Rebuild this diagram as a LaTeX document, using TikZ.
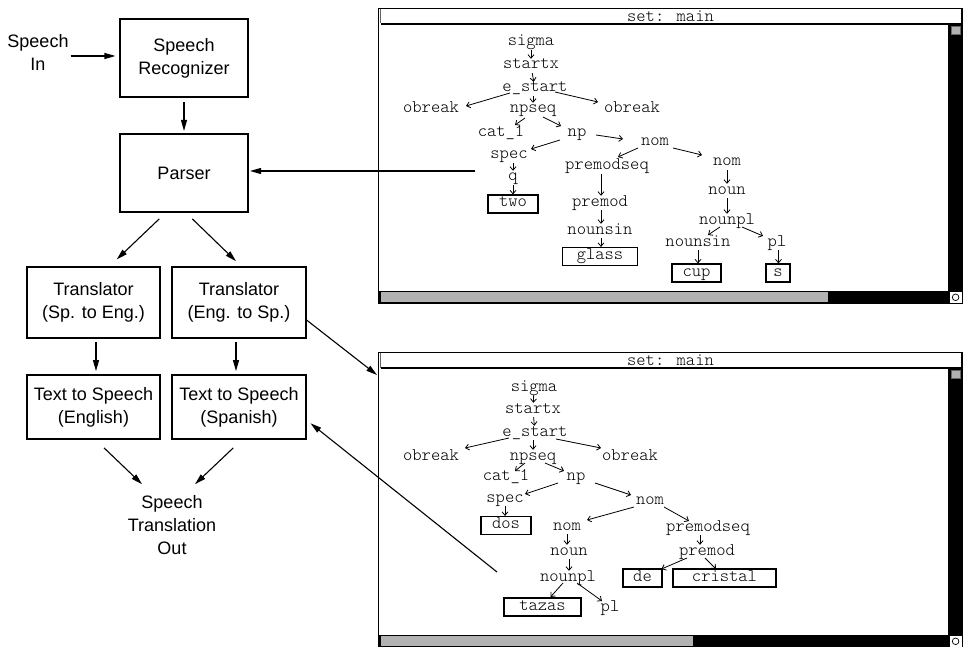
\documentclass[tikz,border=0pt]{standalone}
\usepackage{fontspec}
\setmainfont{Liberation Sans}
\newcommand\treefont{\ttfamily\fontseries{l}\selectfont}
\usetikzlibrary{arrows.meta,calc}
\begin{document}
\begin{tikzpicture}[x=1pt,y=-1pt,
  flowfont/.style={font=\fontsize{18}{23}\selectfont},
  stage/.style={draw, line width=1.1pt, align=center, flowfont},
  flowlabel/.style={align=center, flowfont, inner sep=1pt},
  flowarrow/.style={line width=1.1pt, -{Triangle[length=11pt,width=6pt]}},
  catnode/.style={font=\treefont\fontsize{17.7}{18}\selectfont, inner sep=1pt, text height=9pt, text depth=3pt},
  leafbox/.style={catnode, draw, line width=1.2pt, inner ysep=3pt},
  treelink/.style={line width=0.8pt, -{Straight Barb[length=3.5pt,width=6pt]}},
]
\useasboundingbox (0,0) rectangle (963,647);
\fill[white] (0,0) rectangle (963,647);

% ---- the two chart windows (frame, title bar, scroll bars) ----
\foreach \oy/\tx in {0/828, 344/693}{
  \begin{scope}[shift={(0,\oy)}]
    \draw[line width=1.4pt] (378.7,303) -- (378.7,8.5) -- (962,8.5) -- (962,24);
    \draw[line width=1.2pt] (380.5,24) -- (962,24);
    \draw[line width=0.8pt, black!60] (380.6,9.2) -- (380.6,23.5);
    \fill (947.6,24) rectangle (962.5,291);
    \filldraw[fill=black!30, draw=black!60, line width=0.5pt] (951.3,26.3) rectangle (960.7,34);
    \fill (378,290.6) rectangle (949,303.6);
    \fill[black!30] (380.8,292.3) rectangle (\tx,301.6);
    \filldraw[fill=white, draw=black, line width=1pt] (949.3,291.3) rectangle (962,303);
    \draw[line width=0.7pt] (955.6,297.3) circle (3.3);
  \end{scope}
}
\node[catnode] (a-title) at (670.5,18.3) {set: main};
\node[catnode] (b-title) at (670.5,362.3) {set: main};

% ---- upper parse chart: "two glass cup s" ----
\node[catnode] (a-sigma)  at (531,43)  {sigma};
\node[catnode] (a-startx) at (531,66)  {startx};
\node[catnode] (a-estart) at (535,89)  {e\_start};
\node[catnode] (a-ob1)    at (431,110) {obreak};
\node[catnode] (a-npseq)  at (533,110) {npseq};
\node[catnode] (a-ob2)    at (632,110) {obreak};
\node[catnode] (a-cat)    at (501,134) {cat\_1};
\node[catnode] (a-np)     at (577,134) {np};
\node[catnode] (a-nom1)   at (655,143) {nom};
\node[catnode] (a-spec)   at (509,156) {spec};
\node[catnode] (a-pms)    at (607,167) {premodseq};
\node[catnode] (a-nom2)   at (727,163) {nom};
\node[catnode] (a-q)      at (513,178) {q};
\node[leafbox, minimum width=50pt] (a-two) at (513,204) {two};
\node[catnode] (a-noun)   at (727,191) {noun};
\node[catnode] (a-premod) at (600,203) {premod};
\node[catnode] (a-nounpl) at (727,221) {nounpl};
\node[catnode] (a-ns1)    at (600,231) {nounsin};
\node[catnode] (a-ns2)    at (698,243) {nounsin};
\node[catnode] (a-pl)     at (777,243) {pl};
\node[leafbox, minimum width=75pt] (a-glass) at (600,256.5) {glass};
\node[leafbox, minimum width=49pt] (a-cup) at (696.5,273) {cup};
\node[leafbox, minimum width=24pt] (a-s) at (778,273) {s};

\draw[treelink] (a-sigma) -- (a-startx);
\draw[treelink] (a-startx) -- (a-estart);
\draw[treelink] (a-npseq.north |- a-estart.south) -- (a-npseq.north);
\draw[treelink] ($(a-estart)+(-25,4)$) -- ($(a-ob1)+(35,-4)$);
\draw[treelink] ($(a-estart)+(20,3)$) -- ($(a-ob2)+(-34,-8)$);
\draw[treelink] ($(a-npseq)+(-8,8)$) -- ($(a-cat)+(14,-9)$);
\draw[treelink] ($(a-npseq)+(10,7)$) -- ($(a-np)+(-16,-8)$);
\draw[treelink] ($(a-np)+(19,1)$) -- ($(a-nom1)+(-32,-4)$);
\draw[treelink] ($(a-np)+(-17,6)$) -- ($(a-spec)+(22,-7)$);
\draw[treelink] ($(a-nom1)+(-17,5)$) -- ($(a-pms)+(11,-10)$);
\draw[treelink] ($(a-nom1)+(18,5)$) -- ($(a-nom2)+(-25,-8)$);
\draw[treelink] (a-q.north |- a-spec.south) -- (a-q.north);
\draw[treelink] (a-q) -- (a-two);
\draw[treelink] ($(a-pms.south)+(-6,0)$) -- ($(a-premod.north)+(1,0)$);
\draw[treelink] ($(a-premod.south)+(1,0)$) -- ($(a-ns1.north)+(1,0)$);
\draw[treelink] ($(a-ns1.south)+(1,0)$) -- ($(a-glass.north)+(1,0)$);
\draw[treelink] (a-nom2) -- (a-noun);
\draw[treelink] (a-noun) -- (a-nounpl);
\draw[treelink] ($(a-nounpl)+(-7,6)$) -- ($(a-ns2)+(10,-8)$);
\draw[treelink] ($(a-nounpl)+(15,6)$) -- ($(a-pl)+(-14,-7)$);
\draw[treelink] (a-ns2.south) -- (a-ns2.south |- a-cup.north);
\draw[treelink] ($(a-pl.south)+(1.5,0)$) -- ($(a-pl.south |- a-s.north)+(1.5,0)$);

% ---- lower parse chart: "dos tazas de cristal" ----
\node[catnode] (b-sigma)  at (534,388) {sigma};
\node[catnode] (b-startx) at (533,410) {startx};
\node[catnode] (b-estart) at (535,433) {e\_start};
\node[catnode] (b-ob1)    at (431,457) {obreak};
\node[catnode] (b-npseq)  at (533,457) {npseq};
\node[catnode] (b-ob2)    at (630,457) {obreak};
\node[catnode] (b-cat)    at (506,477) {cat\_1};
\node[catnode] (b-np)     at (576,477) {np};
\node[catnode] (b-spec)   at (505,499) {spec};
\node[catnode] (b-nom1)   at (650,501) {nom};
\node[leafbox, minimum width=50pt] (b-dos) at (506,525.5) {dos};
\node[catnode] (b-nom2)   at (567,527) {nom};
\node[catnode] (b-pms)    at (708,528) {premodseq};
\node[catnode] (b-noun)   at (569,552) {noun};
\node[catnode] (b-premod) at (707,552) {premod};
\node[catnode] (b-nounpl) at (568,578) {nounpl};
\node[leafbox, minimum width=39pt] (b-de) at (642.5,578) {de};
\node[leafbox, minimum width=103pt] (b-cristal) at (724.5,578) {cristal};
\node[leafbox, minimum width=77pt] (b-tazas) at (542.5,607) {tazas};
\node[catnode] (b-pl)     at (610,608) {pl};

\draw[treelink] (b-sigma) -- (b-startx);
\draw[treelink] (b-startx) -- (b-estart);
\draw[treelink] (b-npseq.north |- b-estart.south) -- (b-npseq.north);
\draw[treelink] ($(b-estart)+(-26,5)$) -- ($(b-ob1)+(34,-9)$);
\draw[treelink] ($(b-estart)+(21,6)$) -- ($(b-ob2)+(-29,-9)$);
\draw[treelink] ($(b-npseq)+(-8,6)$) -- ($(b-cat)+(9,-6)$);
\draw[treelink] ($(b-npseq)+(12,6)$) -- ($(b-np)+(-12,-6)$);
\draw[treelink] ($(b-np)+(-18,6)$) -- ($(b-spec)+(20,-5)$);
\draw[treelink] ($(b-np)+(19,6)$) -- ($(b-nom1)+(-19,-6)$);
\draw[treelink] (b-spec.south) -- (b-spec.south |- b-dos.north);
\draw[treelink] ($(b-nom1)+(-16,6)$) -- ($(b-nom2)+(20,-7)$);
\draw[treelink] ($(b-nom1)+(14,6)$) -- ($(b-pms)+(-19,-7)$);
\draw[treelink] (b-nom2.south) -- (b-nom2.south |- b-noun.north);
\draw[treelink] (b-noun.south) -- (b-noun.south |- b-nounpl.north);
\draw[treelink] ($(b-pms.south)+(-8,0)$) -- ($(b-premod.north)+(-7,0)$);
\draw[treelink] ($(b-premod)+(-20,6)$) -- ($(b-de)+(19,-9)$);
\draw[treelink] ($(b-premod)+(-2,6)$) -- ($(b-cristal)+(-8.5,-9)$);
\draw[treelink] ($(b-nounpl)+(-5,5)$) -- ($(b-tazas)+(8,-10)$);
\draw[treelink] ($(b-nounpl)+(9,5)$) -- ($(b-pl)+(-8,-7)$);

% ---- translation pipeline ----
\node[stage, minimum width=128pt, minimum height=78pt] (rec) at (184,58) {Speech\\Recognizer};
\node[stage, minimum width=128pt, minimum height=78pt] (parser) at (184,173) {Parser};
\node[stage, minimum width=133pt, minimum height=71pt] (tr1) at (93.5,302.5) {Translator\\(Sp. to Eng.)};
\node[stage, minimum width=134pt, minimum height=71pt] (tr2) at (239,302.5) {Translator\\(Eng. to Sp.)};
\node[stage, minimum width=133pt, minimum height=64pt] (tts1) at (93.5,407) {Text to Speech\\(English)};
\node[stage, minimum width=134pt, minimum height=64pt] (tts2) at (239,407) {Text to Speech\\(Spanish)};
\node[flowlabel] (spin) at (38,52) {Speech\\In};
\node[flowlabel] (spout) at (172,525) {Speech\\Translation\\Out};

\coordinate (tap1) at (475,171);
\coordinate (tap2) at (497,572);
\coordinate (win2in) at (377,375);

\draw[flowarrow] ($(spin.east)+(1,4)$) -- ($(rec.west)+(-4,-2)$);
\draw[flowarrow, shorten <=4.5pt, shorten >=2.5pt] (rec) -- (parser);
\draw[flowarrow, shorten >=1.5pt] (tap1) -- (tap1 -| parser.east);
\draw[flowarrow] ($(parser.south)+(-24.7,6.3)$) -- ($(tr1.north)+(23.2,-7)$);
\draw[flowarrow] ($(parser.south)+(8.3,6.3)$) -- ($(tr2.north)+(-3,-5.3)$);
\draw[flowarrow] ($(tr1.south)+(2.5,3.7)$) -- ($(tts1.north)+(2.5,-3.3)$);
\draw[flowarrow] ($(tr2.south)+(-3,3.7)$) -- ($(tts2.north)+(-3,-3.3)$);
\draw[flowarrow] ($(tts1.south)+(10.5,8.3)$) -- ($(spout.north)+(-30,-10)$);
\draw[flowarrow] ($(tts2.south)+(-5.7,8.3)$) -- ($(spout.north)+(23,-10)$);
\draw[flowarrow] ($(tr2.east)+(0,17.5)$) -- (win2in);
\draw[flowarrow] (tap2) -- ($(tts2.east)+(4,16.3)$);
\end{tikzpicture}
\end{document}
